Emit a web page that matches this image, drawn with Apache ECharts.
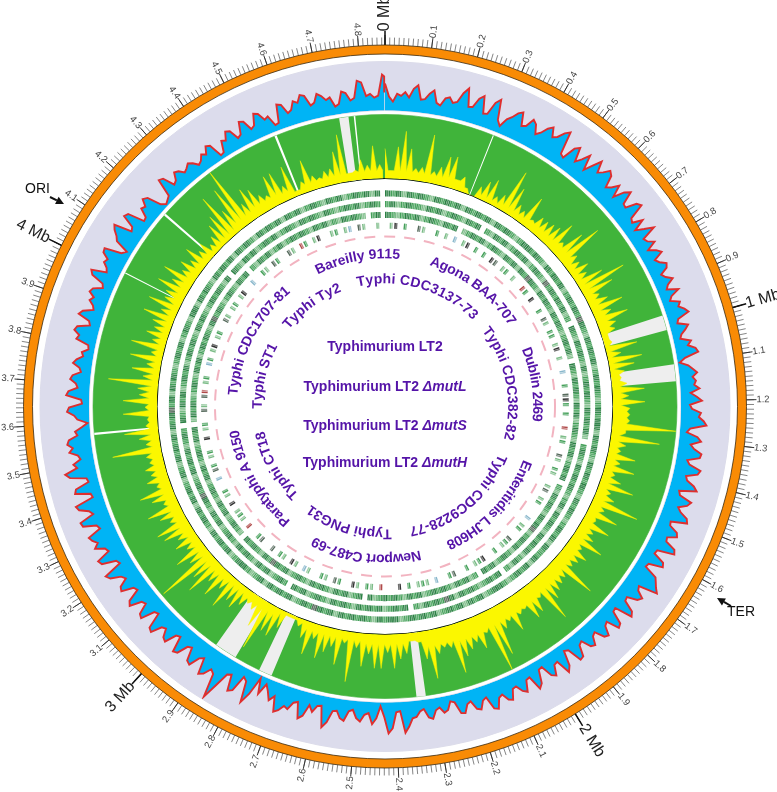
<!DOCTYPE html>
<html><head><meta charset="utf-8">
<style>html,body{margin:0;padding:0;background:#fff}#c{width:777px;height:792px}</style>
<script src="https://cdn.jsdelivr.net/npm/echarts@6/dist/echarts.min.js"></script>
</head><body><div id="c"></div>
<script>
const genomeMb = 4.857;
const binMb = 0.02;
const gcBinMb = 0.01;
const baseBinMb = 0.1;
const mbLabels = [0, 1, 2, 3, 4];
const tenthLabels = [0.1,0.2,0.3,0.4,0.5,0.6,0.7,0.8,0.9,1.1,1.2,1.3,1.4,1.5,1.6,1.7,1.8,1.9,2.1,2.2,2.3,2.4,2.5,2.6,2.7,2.8,2.9,3.1,3.2,3.3,3.4,3.5,3.6,3.7,3.8,3.9,4.1,4.2,4.3,4.4,4.5,4.6,4.7,4.8];

// outer profile, one value per 0.01 Mb
const gcProfile = [27,14,9,17,15,19,14,23,27,13,14,20,24,12,10,18,20,15,17,27,33,15,16,26,30,13,14,27,32,12,7,16,20,26,29,16,18,27,24,15,19,26,30,21,24,31,35,12,10,24,28,14,20,28,13,22,31,20,24,30,27,15,19,26,14,25,30,17,16,27,30,14,12,22,10,18,27,12,14,20,10,17,21,11,14,20,18,10,13,19,12,9,20,11,8,17,14,19,22,10,8,18,14,9,7,17,13,20,22,8,2,10,14,18,13,16,14,19,10,16,21,9,11,20,18,23,26,10,7,18,22,12,16,24,23,11,14,26,24,13,15,23,27,10,12,25,22,14,18,26,28,12,13,22,24,15,16,27,29,12,11,23,25,11,10,24,27,30,34,15,17,25,22,12,13,25,28,10,11,24,26,13,15,24,22,12,14,22,20,10,12,23,24,9,7,22,27,12,13,23,20,8,9,22,26,11,12,23,20,13,14,24,22,15,17,27,25,12,14,22,20,11,13,21,20,8,6,14,16,10,12,20,18,9,11,16,17,25,31,9,10,26,31,15,4,16,22,11,13,20,17,9,11,21,19,12,13,25,31,10,11,18,12,24,28,12,14,22,20,26,29,14,20,12,6,18,3,22,33,12,9,26,29,13,15,30,46,22,19,27,30,14,17,28,26,13,15,26,28,12,14,26,24,16,18,29,27,11,13,27,25,14,16,28,25,12,14,26,24,15,18,28,31,12,14,28,30,16,18,27,22,26,28,14,16,29,30,15,18,27,29,10,11,26,24,10,11,27,31,18,21,13,15,23,19,24,22,13,15,8,2,12,15,22,20,7,8,23,21,12,14,20,18,10,12,19,16,10,12,6,7,20,18,24,22,10,12,24,21,11,13,18,15,21,19,10,12,25,28,13,15,20,18,25,26,9,5,19,22,27,30,12,14,27,25,8,9,18,16,23,20,6,2,4,6,24,22,10,12,19,17,12,14,17,14,9,11,16,13,20,18,4,5,16,14,22,20,10,12,24,22,12,14,25,23,15,17,6,7,25,23,13,15,23,20,27,25,14,16,24,21,16,18,8,10,22,20,12,14,31,29,15,17,13,15,36,34,18,22];
// inner yellow peaks, one value per 0.02 Mb
const yellowProfile = [30,8,32,48,31,12,14,48,12,18,30,32,10,15,5,0,12,20,25,10,15,45,30,15,12,32,10,18,18,20,22,32,14,33,48,16,14,20,14,28,49,32,14,20,33,18,33,18,15,6,8,32,14,34,25,14,10,15,32,16,32,17,17,17,64,14,49,16,12,28,14,30,12,20,35,14,20,48,15,32,12,30,16,20,34,15,25,20,18,48,20,22,25,30,49,18,30,33,18,20,34,20,25,50,64,20,34,25,30,35,50,22,20,25,49,28,10,8,20,25,34,18,34,34,20,33,15,50,12,35,18,25,33,15,33,18,8,3,3,18,30,28,51,30,15,12,18,26,22,35,18,32,20,40,28,62,22,33,16,25,18,30,34,16,24,34,14,24,34,14,22,16,20,14,16,49,14,20,34,12,10,34,12,34,18,20,50,16,28,14,32,12,34,14,22,16,20,32,16,32,18,20,32,20,33,16,22,15,25,14,18,10,15,24,30,48,26,47,65,20,33,28,18,14,32,32,15,33,5,12,32,14,10,15,16,32,48,8,10,20,14,33,14,30];
// height of the solid yellow under the peaks, one value per 0.1 Mb
const yellowBase = [8,8,10,4,6,8,10,6,8,10,4,8,14,8,8,10,10,12,14,16,16,18,16,10,10,8,8,4,8,6,8,8,10,10,10,8,8,6,6,6,8,6,4,8,10,8,8,8,8];

// breaks in the inner ring, in Mb
const grayGapStart = [0.969,1.102,2.320,2.737,2.844,4.735];
const grayGapEnd   = [1.009,1.147,2.345,2.773,2.905,4.760];
const whiteLineAt  = [0.294,3.570,4.010,4.197,4.560,4.776];
const whiteLineWidth = [0.003,0.006,0.003,0.006,0.006,0.004];

// gene tracks, inner to outer; one digit per 0.02 Mb, shade class, 0 = no gene
const trackSparse = "0150200410 0201070150 2020540120 1006205002 0410220150 1007002045 2020060120 0410210014 0120007012 0042102005 2102004200 7012102050 0060120150 0240120017 0150120400 4200601210 5012007042 0120050120 0410460120 0720150120 0410120150 0700210420 0410620150 0120170410 015";
const trackInner  = "2312322132 3123213230 2132312323 1232142323 2312032132 3213123232 1323231023 2132323212 3132321323 2312312032 3212323134 2323120323 2132323123 2312321323 0232132312 3231232132 3123423213 2323123203 2132312323 1232321323 2123232130 3213231232 3123213232 1321232312 321";
const trackMiddle = "3212323123 2132301232 3123213231 3243213232 1323212323 1032132321 3231232132 3123230213 2321323412 3231232132 3021323123 2321323123 2321303213 2312323123 2132342312 3230123213 2312321323 1232132301 3232123213 2312323213 4232123213 2302132312 3123232132 3121323210 232";
const trackOuter  = "3231323213 2323132323 1323212332 3213232312 3232432132 3231232321 2323313232 1323232132 3212323132 2313232123 3213231323 2132323213 3231232323 1323423213 2323132123 3213232312 3231323213 2132323132 3423132321 2323123213 3132321323 2313232132 3231323123 2132312323 132";
const trackSeries = [trackSparse, trackMiddle, trackInner, trackOuter];
const shadeColors = ['', '#7cbc88', '#45a05a', '#2b8044', '#566a5c', '#333333', '#b04a4a', '#8ab8cc'];

// curved strain names: text, first and last letter bearing in degrees
const ringOuterNames = ['Bareilly 9115','Agona BAA-707','Dublin 2469','Enteritidis LJH608','Newport C487-69','Paratyphi A 9150','Typhi CDC1707-81'];
const ringOuterFrom  = [-27, 17.4, 67.4, 111, 166.4, 219.7, 274.3];
const ringOuterTo    = [5.7, 57, 95.6, 155.7, 208.4, 261, 320.4];
const ringInnerNames = ['Typhi CDC3137-73','Typhi CDC382-82','Typhi CDC9228-77','Typhi PNG31','Typhi CT18','Typhi ST1','Typhi Ty2'];
const ringInnerFrom  = [-13, 52, 112.6, 177, 224.5, 269, 308.7];
const ringInnerTo    = [45.5, 105.3, 168.8, 217, 258.5, 299.3, 339.4];
const centerMutants  = ['', 'mutL', 'mutS', 'mutH'];

const C = [385, 406.5];
const PURPLE = '#5514a8';
const strip = s => s.replace(/\s/g, '');

function angleAxis(i, o) {
  return Object.assign({polarIndex:i, type:'value', min:0, max:genomeMb, startAngle:90, clockwise:true,
    axisLine:{show:false}, axisTick:{show:false}, axisLabel:{show:false}, splitLine:{show:false}, minorTick:{show:false}}, o||{});
}
function radiusAxis(i, min, max, o) {
  return Object.assign({polarIndex:i, type:'value', min:min, max:max,
    axisLine:{show:false}, axisTick:{show:false}, axisLabel:{show:false}, splitLine:{show:false}}, o||{});
}
const polar = [
  {center:C, radius:[352.5,361.5]}, {center:C, radius:[352.5,361.5]}, {center:C, radius:[352.5,361.5]},
  {center:C, radius:[296,345]}, {center:C, radius:[228,292]}, {center:C, radius:[175.5,218.5]},
  {center:C, radius:[0,228]}, {center:C, radius:[0,170]}, {center:C, radius:[0,400]}
];
const angleAxes = [
  angleAxis(0,{interval:0.01, axisLine:{show:true,lineStyle:{color:'#3a2a10',width:0.8}}, axisTick:{show:true,length:7.5,lineStyle:{color:'#666',width:0.8}}}),
  angleAxis(1,{interval:0.1, axisTick:{show:true,length:10,lineStyle:{color:'#333',width:1}}}),
  angleAxis(2,{interval:1, axisTick:{show:true,length:14,lineStyle:{color:'#111',width:1.5}}}),
  angleAxis(3), angleAxis(4), angleAxis(5),
  angleAxis(6,{axisLine:{show:true,lineStyle:{color:'#111',width:1}}}),
  angleAxis(7,{axisLine:{show:true,lineStyle:{color:'#f2b3c0',width:2,type:[11,9]}}}),
  angleAxis(8)
];
const radiusAxes = [
  radiusAxis(0,0,1,{interval:1,splitArea:{show:true,areaStyle:{color:['#f98b05']}}}),
  radiusAxis(1,0,1), radiusAxis(2,0,1),
  radiusAxis(3,0,49,{interval:2,splitArea:{show:true,areaStyle:{color:['#dcdcec']}},splitLine:{show:true,lineStyle:{color:'#c2c2d8',width:0.6}}}),
  radiusAxis(4,0,64,{interval:2,splitArea:{show:true,areaStyle:{color:['#40b43a']}},splitLine:{show:true,lineStyle:{color:'#36a333',width:0.6}}}),
  radiusAxis(5,0,4), radiusAxis(6,0,1), radiusAxis(7,0,1), radiusAxis(8,0,400)
];

function sector(params, api, rIn, rOut, a0, a1, style) {
  const cs = params.coordSys;
  const p0 = api.coord([rIn, a0]), p1 = api.coord([rIn, a1]);
  const pOut = api.coord([rOut, a0]);
  const st = Math.atan2(p0[1]-cs.cy, p0[0]-cs.cx);
  let en = Math.atan2(p1[1]-cs.cy, p1[0]-cs.cx);
  if (en < st) en += Math.PI*2;
  const r0 = Math.hypot(p0[0]-cs.cx, p0[1]-cs.cy), r = Math.hypot(pOut[0]-cs.cx, pOut[1]-cs.cy);
  return {type:'sector', shape:{cx:cs.cx, cy:cs.cy, r0:r0, r:r, startAngle:st, endAngle:en, clockwise:true}, style:style, silent:true};
}

const gapData = [];
grayGapStart.forEach((s,i)=>gapData.push([0, s, grayGapEnd[i], 0]));
whiteLineAt.forEach((s,i)=>gapData.push([0, s-whiteLineWidth[i]/2, s+whiteLineWidth[i]/2, 1]));

const trackData = [];
trackSeries.forEach((str,k)=>{
  strip(str).split('').forEach((d,i)=>{ if (d!=='0' && i*binMb<genomeMb-0.02) trackData.push([k+0.5, i*binMb, +d]); });
});

// yellow: a peak at each bin, dropping to the solid height between peaks
const yellowPoints = [];
yellowProfile.forEach((v,i)=>{
  const a = i*binMb;
  if (a >= genomeMb) return;
  yellowPoints.push([v, a]);
  const next = yellowProfile[i+1] === undefined ? v : yellowProfile[i+1];
  const b = yellowBase[Math.min(Math.floor(a/baseBinMb), yellowBase.length-1)];
  yellowPoints.push([Math.min(b, v, next), Math.min(a+binMb/2, genomeMb-0.001)]);
});

const tickText = [];
tenthLabels.forEach(v=>tickText.push({r:378, a:v, t:v.toFixed(1), size:9.5, color:'#444'}));
mbLabels.forEach(v=>tickText.push({r:393, a:v, t:v+' Mb', size:16, color:'#222'}));

const measure = document.createElement('canvas').getContext('2d');
const STRAIN_SIZE = 14;
measure.font = 'bold '+STRAIN_SIZE+'px "Liberation Sans", Arial, sans-serif';
const letters = [];
function addRing(names, from, to, r) {
  names.forEach((name,n)=>{
    const chars = name.split('');
    const w = chars.map(c=>measure.measureText(c).width);
    const total = w.reduce((a,b)=>a+b,0);
    let run = 0;
    chars.forEach((c,i)=>{
      const f = (run + w[i]/2)/total;
      run += w[i];
      const deg = from[n] + (to[n]-from[n])*f;
      if (c!==' ') letters.push({c:c, r:r, deg:deg});
    });
  });
}
addRing(ringOuterNames, ringOuterFrom, ringOuterTo, 152);
addRing(ringInnerNames, ringInnerFrom, ringInnerTo, 127);

const toMb = d => ((d%360+360)%360)/360*genomeMb;

const series = [
  {type:'custom', coordinateSystem:'polar', polarIndex:4, z:3, silent:true, data:gapData,
    encode:{radius:0, angle:1},
    renderItem:(p,api)=>sector(p,api,0,64,api.value(1),api.value(2),{fill:api.value(3)?'#ffffff':'#eeeeee'})},
  {type:'line', coordinateSystem:'polar', polarIndex:4, z:4, silent:true, symbol:'none', animation:false,
    data:yellowPoints,
    lineStyle:{color:'#f7f300',width:0.5}, areaStyle:{color:'#fbf700',opacity:1}},
  {type:'line', coordinateSystem:'polar', polarIndex:3, z:4, silent:true, symbol:'none', animation:false,
    data:gcProfile.map((v,i)=>[v, Math.min(i*gcBinMb, genomeMb-0.002)]),
    lineStyle:{color:'#de2f2f',width:1.9,join:'miter'}, areaStyle:{color:'#00b4f5',opacity:1}},
  {type:'custom', coordinateSystem:'polar', polarIndex:5, z:3, silent:true, data:trackData,
    encode:{radius:0, angle:1},
    renderItem:(p,api)=>{
      const r=api.value(0), a=api.value(1), col=shadeColors[api.value(2)], h=0.28;
      const kids=[sector(p,api,r-h,r+h,a,a+binMb*0.3,{fill:col})];
      kids.push(sector(p,api,r-h,r+h,a+binMb*0.34,a+binMb*0.64,{fill:col,opacity:r<1?0.7:0.85}));
      if (r>1) kids.push(sector(p,api,r-h,r+h,a+binMb*0.68,a+binMb*0.96,{fill:col,opacity:0.95}));
      return {type:'group', children:kids};
    }},
  {type:'custom', coordinateSystem:'polar', polarIndex:8, z:6, silent:true,
    data:tickText.map(t=>[t.r,t.a]), encode:{radius:0, angle:1},
    renderItem:(p,api)=>{
      const t=tickText[p.dataIndex], pt=api.coord([t.r,t.a]);
      const th=t.a/genomeMb*360;
      const deg = th<=180 ? 90-th : 270-th;
      return {type:'text', x:pt[0], y:pt[1], rotation:deg*Math.PI/180, silent:true,
        style:{text:t.t, fill:t.color, fontSize:t.size, fontFamily:'"Liberation Sans", Arial, sans-serif', align:'center', verticalAlign:'middle'}};
    }},
  {type:'custom', coordinateSystem:'polar', polarIndex:8, z:6, silent:true,
    data:letters.map(l=>[l.r,toMb(l.deg)]), encode:{radius:0, angle:1},
    renderItem:(p,api)=>{
      const l=letters[p.dataIndex], pt=api.coord([l.r,toMb(l.deg)]);
      return {type:'text', x:pt[0], y:pt[1], rotation:-l.deg*Math.PI/180, silent:true,
        style:{text:l.c, fill:PURPLE, fontSize:STRAIN_SIZE, fontWeight:'bold', fontFamily:'"Liberation Sans", Arial, sans-serif', align:'center', verticalAlign:'middle'}};
    }}
];

const centerY = [346.7, 386.7, 426, 462.7];
const graphic = centerMutants.map((m,i)=>({
  type:'text', x:385, y:centerY[i], z:10, silent:true,
  style:{
    text: m ? '{b|Typhimurium LT2 }{i|Δ'+m+'}' : '{b|Typhimurium LT2}',
    align:'center', verticalAlign:'middle',
    rich:{
      b:{fill:PURPLE, fontSize:STRAIN_SIZE, fontWeight:'bold', fontFamily:'"Liberation Sans", Arial, sans-serif'},
      i:{fill:PURPLE, fontSize:STRAIN_SIZE, fontWeight:'bold', fontStyle:'italic', fontFamily:'"Liberation Sans", Arial, sans-serif'}
    }
  }
}));
const note = (txt,x,y)=>({type:'text',x:x,y:y,z:10,silent:true,style:{text:txt,fill:'#111',fontSize:14,fontFamily:'"Liberation Sans", Arial, sans-serif',align:'center',verticalAlign:'middle'}});
const arrow = (x0,y0,x1,y1)=>{
  const a=Math.atan2(y1-y0,x1-x0), h=8, w=4, bx=x1-h*Math.cos(a), by=y1-h*Math.sin(a);
  return [
    {type:'line',z:10,silent:true,shape:{x1:x0,y1:y0,x2:bx,y2:by},style:{stroke:'#111',lineWidth:2}},
    {type:'polygon',z:10,silent:true,shape:{points:[[x1,y1],[bx-w*Math.sin(a),by+w*Math.cos(a)],[bx+w*Math.sin(a),by-w*Math.cos(a)]]},style:{fill:'#111'}}
  ];
};
graphic.push(note('ORI',37.5,189), note('TER',741,612));
graphic.push(...arrow(50,197,64,204), ...arrow(731,606,717,598));

const chart = echarts.init(document.getElementById('c'), null, {renderer:'canvas', width:777, height:792});
chart.setOption({animation:false, backgroundColor:'#fff', polar:polar, angleAxis:angleAxes, radiusAxis:radiusAxes, series:series, graphic:graphic});
</script></body></html>
